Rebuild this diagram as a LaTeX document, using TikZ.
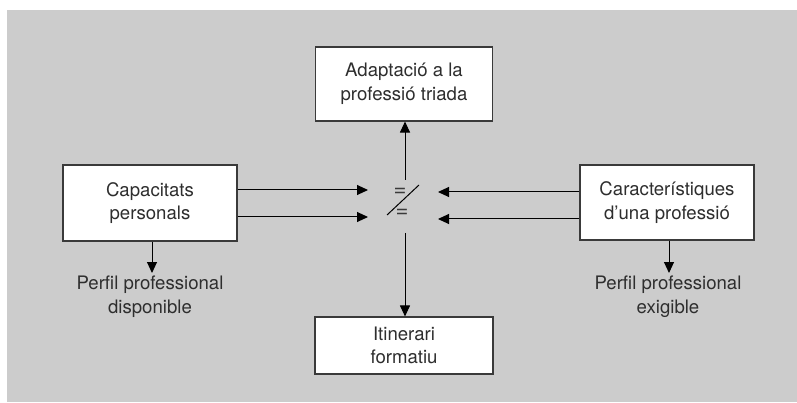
\documentclass[tikz,border=0pt]{standalone}
\usepackage{fontspec}
\setmainfont{TeX Gyre Heros}
\usetikzlibrary{arrows.meta}
\definecolor{panel}{HTML}{CCCCCC}
\definecolor{ink}{HTML}{2E2E2E}
\definecolor{edge}{HTML}{3A3A3A}
\begin{document}
\begin{tikzpicture}[x=1pt,y=-1pt,
  every node/.style={text=ink, font=\fontsize{18.6}{23.5}\selectfont, align=center},
  boxnode/.style={draw=edge, line width=1.1pt, fill=white, inner sep=0pt},
  conn/.style={draw=black, line width=1pt, -{Triangle[length=11pt,width=10pt]}},
  plain/.style={draw=black, line width=1pt},
  eqsign/.style={font=\fontsize{22}{22}\selectfont, inner sep=0pt, text=edge}]
  \useasboundingbox (0,0) rectangle (797,403);
  \fill[panel] (7,10) rectangle (797,402);

  % boxes
  \node[boxnode, minimum width=177pt, minimum height=74pt] (adapt) at (404,84)
    {Adaptació a la\\professió triada};
  \node[boxnode, minimum width=174pt, minimum height=76pt] (cap) at (150,203)
    {Capacitats\\personals};
  \node[boxnode, minimum width=174pt, minimum height=75pt] (carac) at (667,202.5)
    {Característiques\\d’una professió};
  \node[boxnode, minimum width=178pt, minimum height=57pt] (itin) at (404,345.5)
    {Itinerari\\formatiu};

  % labels under the side boxes
  \node[anchor=north, inner sep=0pt] (disp) at (150,276) {Perfil professional\\disponible};
  \node[anchor=north, inner sep=0pt] (exig) at (668,276) {Perfil professional\\exigible};

  % comparison mark in the centre
  \coordinate (ctop) at (405,180);
  \coordinate (cbot) at (405,233);
  \coordinate (sa) at (387,215);
  \coordinate (sb) at (419,185);
  \draw[plain] (sa) -- (sb);
  \node[eqsign] (eqa) at (400,192) {=};
  \node[eqsign] (eqb) at (402,213) {=};

  % incoming arrows
  \coordinate (la) at (368,190);
  \coordinate (lb) at (368,217);
  \coordinate (ra) at (438,192);
  \coordinate (rb) at (438,219);
  \draw[conn] (cap.east |- la) -- (la);
  \draw[conn] (cap.east |- lb) -- (lb);
  \draw[conn] (carac.west |- ra) -- (ra);
  \draw[conn] (carac.west |- rb) -- (rb);

  % outgoing arrows
  \coordinate (dtip) at (152,273);
  \coordinate (etip) at (669,273);
  \draw[conn] (ctop) -- (adapt.south -| ctop);
  \draw[conn] (cbot) -- (itin.north -| cbot);
  \draw[conn] (cap.south -| dtip) -- (dtip);
  \draw[conn] (carac.south -| etip) -- (etip);
\end{tikzpicture}
\end{document}
